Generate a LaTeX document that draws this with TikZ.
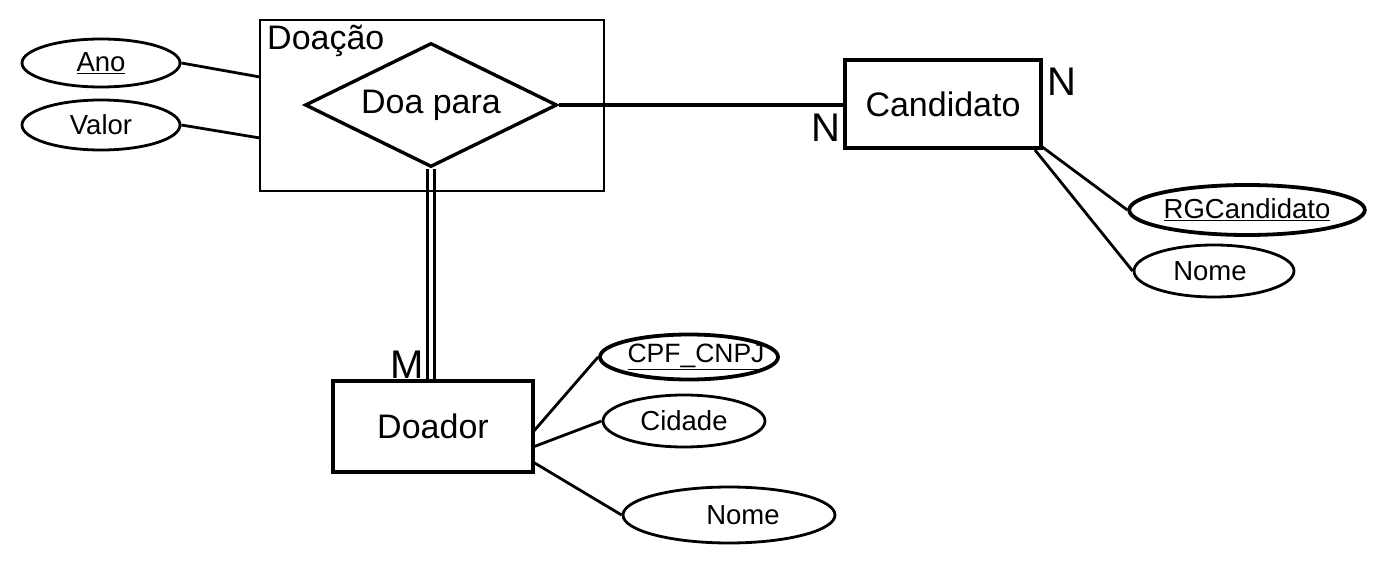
\documentclass[tikz,border=0pt]{standalone}
\usepackage{fontspec}
\setmainfont{Liberation Sans}
\usetikzlibrary{shapes.geometric}
\newcommand{\shifted}[2]{\makebox[0pt]{\hspace*{#1}#2}}
\begin{document}
\begin{tikzpicture}[x=1pt,y=-1pt,
  big/.style={font=\fontsize{34}{38}\selectfont},
  card/.style={font=\fontsize{40}{44}\selectfont,inner sep=0pt},
  small/.style={font=\fontsize{27.5}{30}\selectfont},
  attr/.style={draw,ellipse,line width=2.8pt,inner sep=0pt,small},
  keyattr/.style={attr,line width=3.8pt},
  entity/.style={draw,rectangle,line width=4.2pt,inner sep=0pt,big},
  link/.style={line width=2.8pt},
  rel/.style={line width=3.4pt}]
\useasboundingbox (0,0) rectangle (1382,580);
% aggregation box
\node[draw,line width=2.4pt,minimum width=344,minimum height=171,inner sep=0pt] (agg) at (432,105.5) {};
\node[big,anchor=north west,inner sep=0pt] (aggl) at (267,25) {Doação};
\node[draw,diamond,line width=3.4pt,minimum width=252,minimum height=124,inner sep=0pt,big,aspect=2] (rel) at (431,105) {Doa para};
% attributes of aggregation
\node[attr,minimum width=158,minimum height=48] (ano) at (101,63) {\underline{Ano}};
\node[attr,minimum width=158,minimum height=50] (valor) at (101,125) {Valor};
\coordinate (aggA) at (260,77);
\coordinate (aggV) at (260,138);
\draw[link] (ano.east) -- (aggA);
\draw[link] (valor.east) -- (aggV);
% Candidato
\node[entity,minimum width=196,minimum height=88] (cand) at (943,104) {Candidato};
\draw[rel] (rel.east) -- (cand.west |- rel.east);
\node[card] (n1) at (826,128) {N};
\node[card] (n2) at (1062,82) {N};
\node[keyattr,minimum width=226,minimum height=50] (rg) at (1247,210) {\underline{RGCandidato}};
\node[attr,minimum width=160,minimum height=52] (cnome) at (1214,271) {\shifted{-8pt}{Nome}};
\coordinate (c1) at (1041,146);
\coordinate (c2) at (1035,150);
\draw[link] (c1) -- (rg.west);
\draw[link] (c2) -- (cnome.west);
% Doador
\node[entity,minimum width=200,minimum height=91] (doador) at (433,426.5) {Doador};
\draw[line width=2.6pt] ([xshift=-3.5]rel.south) -- ([xshift=-3.5]rel.south |- doador.north);
\draw[line width=2.6pt] ([xshift=3.5]rel.south) -- ([xshift=3.5]rel.south |- doador.north);
\node[card] (m) at (407,365) {M};
\node[keyattr,minimum width=178,minimum height=45] (cpf) at (689,357) {\shifted{14pt}{\fontsize{26.5}{30}\selectfont\underline{CPF\_CNPJ}}};
\node[attr,minimum width=162,minimum height=52] (cid) at (684,421) {Cidade};
\node[attr,minimum width=212,minimum height=56] (dnome) at (729,515) {\shifted{28pt}{Nome}};
\coordinate (d1) at (533,432);
\coordinate (d2) at (533,447);
\coordinate (d3) at (533,462);
\draw[link] (d1) -- (cpf.west);
\draw[link] (d2) -- (cid.west);
\draw[link] (d3) -- (dnome.west);
\end{tikzpicture}
\end{document}
